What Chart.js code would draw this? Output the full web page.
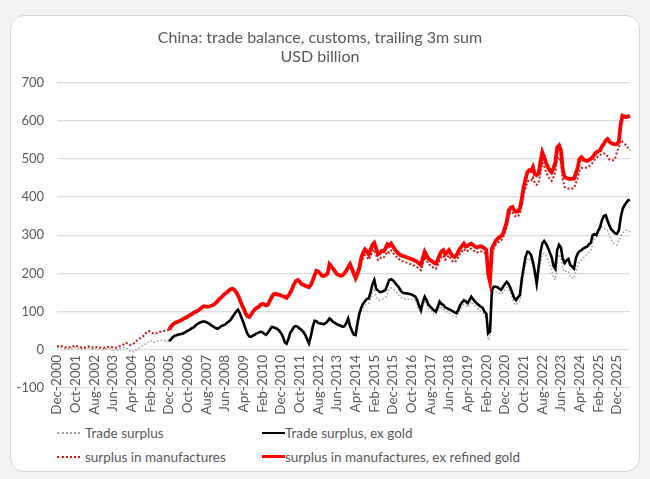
<!DOCTYPE html>
<html>
<head>
<meta charset="utf-8">
<script src="https://cdn.jsdelivr.net/npm/chart.js@4.4.1/dist/chart.umd.min.js"></script>
<style>
  html, body { margin: 0; padding: 0; background: #f3f3f3; width: 650px; height: 479px; overflow: hidden; }
  #card { position: absolute; left: 10px; top: 15px; width: 628px; height: 455px; background: #fff;
          border: 1.5px solid #d6dadd; border-radius: 14px; }
  #wrap { position: absolute; left: 10px; top: 15px; width: 630px; height: 410px; }
  .leg { position: absolute; font-family: Lato, "Open Sans", sans-serif; font-size: 13.5px; color: #595959;
         white-space: nowrap; line-height: 16px; }
  .sw { position: absolute; width: 23px; height: 0; }
</style>
</head>
<body>
<div id="card"></div>
<div id="wrap"><canvas id="c" width="630" height="410"></canvas></div>

<div class="sw" style="left:57px; top:432px; border-top:2px dotted #a6a6a6;"></div>
<div class="leg" style="left:85px; top:425px;">Trade surplus</div>
<div class="sw" style="left:262px; top:432px; border-top:2.5px solid #000;"></div>
<div class="leg" style="left:285px; top:425px;">Trade surplus, ex gold</div>
<div class="sw" style="left:57px; top:456px; border-top:2px dotted #d01515;"></div>
<div class="leg" style="left:85px; top:449px;">surplus in manufactures</div>
<div class="sw" style="left:262px; top:455px; border-top:3.5px solid #ff0000;"></div>
<div class="leg" style="left:285px; top:449px;">surplus in manufactures, ex refined gold</div>

<script>
// ---- categories: monthly, Dec-2000 .. Jul-2026 ----
const monthNames = ["Jan","Feb","Mar","Apr","May","Jun","Jul","Aug","Sep","Oct","Nov","Dec"];
const startYear = 2000, startMonth = 11, nMonths = 308;
const categories = [];
for (let k = 0; k < nMonths; k++) {
  const m = (startMonth + k) % 12, y = startYear + Math.floor((startMonth + k) / 12);
  categories.push(monthNames[m] + "-" + y);
}
// every 10th category is shown as a tick label
const tickLabels = ["Dec-2000","Oct-2001","Aug-2002","Jun-2003","Apr-2004","Feb-2005","Dec-2005","Oct-2006",
  "Aug-2007","Jun-2008","Apr-2009","Feb-2010","Dec-2010","Oct-2011","Aug-2012","Jun-2013","Apr-2014","Feb-2015",
  "Dec-2015","Oct-2016","Aug-2017","Jun-2018","Apr-2019","Feb-2020","Dec-2020","Oct-2021","Aug-2022","Jun-2023",
  "Apr-2024","Feb-2025","Dec-2025"];

// ---- Trade surplus (USD bn, trailing 3m), Dec-2000 .. Jul-2026 ----
const tradeSurplus = [
  6,
  6,7,5,3,2,2,3,4,6,7,5,3,
  2,1,2,4,5,3,2,2,3,4,2,1,
  0,1,2,3,2,0,-1,0,2,3,4,6,
  5,2,-3,-6,-5,-2,2,5,8,11,14,18,
  22,24,22,20,21,23,24,25,24,23,25,22,
  26,32,36,37,39,40,41,43,46,49,51,55,
  57,61,66,69,71,73,73,71,69,66,62,59,
  56,54,57,61,63,65,69,73,77,85,92,99,
  104,94,81,69,54,41,34,33,36,39,42,44,
  46,45,41,38,44,51,59,58,56,54,49,43,
  34,19,14,26,43,50,58,60,58,54,50,45,
  37,26,15,33,58,74,73,68,67,66,65,68,
  73,80,76,71,68,65,63,61,58,60,68,80,
  60,48,38,36,62,85,100,110,115,120,122,132,
  150,160,138,132,130,132,135,138,148,160,162,160,
  155,150,143,138,136,134,133,133,133,132,130,128,
  120,104,95,115,128,120,108,103,98,94,91,102,
  115,110,106,101,99,96,93,90,88,86,94,106,
  113,118,116,111,118,126,121,116,110,106,102,99,
  90,84,26,33,138,152,152,151,148,145,152,158,
  163,157,148,136,122,117,124,128,165,190,222,236,
  240,232,215,190,157,195,228,250,252,246,236,225,
  212,190,183,235,250,240,215,204,207,205,192,188,
  187,205,220,230,235,240,245,250,255,261,278,290,
  295,305,315,322,320,316,313,300,288,280,276,274,
  285,296,305,310,313,313,309
];

// ---- Trade surplus, ex gold: Dec-2005 .. Jul-2026 ----
const tradeSurplusExGold = [
  23,
  27,33,37,38,40,41,42,44,47,50,52,56,
  58,62,67,70,72,74,74,72,70,67,63,60,
  57,55,58,62,64,66,70,74,78,86,93,100,
  105,95,82,70,55,42,35,34,37,40,43,45,
  47,46,42,39,45,52,60,59,57,55,50,44,
  35,20,16,28,45,52,60,62,60,56,52,47,
  39,28,17,35,60,76,75,70,69,68,67,70,
  75,82,78,73,70,67,65,63,60,62,70,82,
  62,50,40,39,70,95,110,121,127,133,134,150,
  172,183,160,155,151,152,154,157,170,183,185,182,
  176,170,165,156,150,148,148,147,146,145,142,139,
  130,115,104,125,139,130,118,113,108,103,100,112,
  126,120,117,111,109,106,104,101,98,96,104,117,
  124,130,127,122,130,139,132,126,121,117,113,110,
  100,95,43,48,155,165,165,164,160,157,165,172,
  178,172,161,148,135,130,138,143,185,215,243,257,
  255,248,230,205,174,215,255,278,285,278,268,255,
  243,220,212,262,275,268,238,227,234,238,222,218,
  213,240,252,258,261,265,268,270,276,280,300,303,
  300,312,322,340,350,352,338,325,315,310,305,304,
  312,345,368,378,385,391,393
];

// ---- surplus in manufactures: Dec-2000 .. Jul-2026 ----
const manufSurplus = [
  9,
  10,11,9,7,6,6,7,8,10,11,9,7,
  6,5,6,8,9,7,6,6,7,8,6,5,
  5,6,7,8,8,6,5,6,8,10,12,15,
  18,16,13,13,16,20,25,28,32,35,40,46,
  49,47,44,42,43,45,47,48,49,50,51,52,
  59,65,69,71,73,75,78,81,83,86,89,92,
  95,98,100,103,107,111,113,112,112,113,115,117,
  121,126,132,136,141,146,149,154,157,159,156,150,
  141,129,117,107,95,87,85,91,99,105,109,111,
  117,119,118,115,117,127,137,144,146,144,143,141,
  139,137,135,141,149,159,171,179,182,177,171,169,
  167,165,163,169,180,194,206,204,199,193,192,195,
  199,222,216,210,203,196,194,192,193,198,205,213,
  218,205,193,182,192,206,228,240,248,243,236,246,
  258,262,248,235,238,243,242,248,258,254,260,254,
  248,243,238,234,232,231,229,227,225,223,221,219,
  216,212,208,226,243,234,225,221,217,214,212,222,
  234,244,247,236,241,247,238,231,229,234,243,252,
  258,264,257,259,263,265,261,257,255,257,258,256,
  253,250,192,172,256,266,275,280,283,287,293,307,
  322,350,359,361,352,348,350,356,378,405,422,440,
  443,443,452,436,432,436,462,490,480,466,455,447,
  442,452,467,500,504,492,444,426,424,422,421,422,
  423,436,451,470,476,475,476,478,480,484,490,497,
  503,507,510,513,514,513,506,498,496,496,500,518,
  530,548,545,540,535,528,522
];

// ---- surplus in manufactures, ex refined gold: Dec-2005 .. Jul-2026 ----
const manufSurplusExGold = [
  53,
  60,66,70,72,74,76,79,82,84,87,90,93,
  96,99,101,104,108,112,114,113,113,114,116,118,
  122,127,133,137,142,147,150,155,158,160,157,151,
  142,130,118,108,96,88,86,92,100,106,110,112,
  118,120,119,116,118,128,138,145,147,145,144,142,
  140,138,136,142,150,160,172,180,183,178,172,170,
  168,166,164,170,181,195,207,205,200,194,193,196,
  200,224,218,212,205,198,196,194,195,200,207,216,
  224,212,200,188,200,216,240,254,263,258,250,262,
  275,280,265,250,253,259,258,265,276,272,278,270,
  263,257,252,248,246,245,243,241,239,237,235,233,
  230,226,222,240,257,248,239,235,231,228,226,236,
  248,258,261,250,255,261,252,245,243,248,257,266,
  272,278,270,272,276,278,274,270,268,270,271,269,
  266,262,200,178,265,275,285,291,294,298,305,320,
  335,365,372,374,365,361,363,370,395,425,445,465,
  470,468,478,460,457,461,490,517,505,490,478,470,
  465,475,491,530,535,522,470,452,450,448,447,448,
  448,462,478,500,504,498,496,495,496,500,504,512,
  517,520,522,533,539,548,552,545,541,539,538,539,
  545,591,613,611,609,611,613
];

const exGoldStart = 60; // ex-gold series begin Dec-2005
const pad = n => new Array(n).fill(null);

const yTicks = [-100, 0, 100, 200, 300, 400, 500, 600, 700];
const textColor = "#595959";
const fontFamily = "Lato, 'Open Sans', sans-serif";

new Chart(document.getElementById("c"), {
  type: "line",
  data: {
    labels: categories,
    datasets: [
      { label: "surplus in manufactures, ex refined gold", data: pad(exGoldStart).concat(manufSurplusExGold),
        borderColor: "#ff0000", borderWidth: 3.8, pointRadius: 0, tension: 0 },
      { label: "Trade surplus, ex gold", data: pad(exGoldStart).concat(tradeSurplusExGold),
        borderColor: "#000000", borderWidth: 2.6, pointRadius: 0, tension: 0 },
      { label: "surplus in manufactures", data: manufSurplus,
        borderColor: "#d01515", borderWidth: 2, borderDash: [2, 2], pointRadius: 0, tension: 0 },
      { label: "Trade surplus", data: tradeSurplus,
        borderColor: "#a6a6a6", borderWidth: 1.6, borderDash: [1.6, 2], pointRadius: 0, tension: 0 }
    ]
  },
  options: {
    responsive: false,
    animation: false,
    spanGaps: false,
    layout: { padding: { left: 0, right: 10, top: 0, bottom: 37 } },
    plugins: {
      legend: { display: false },
      tooltip: { enabled: false },
      title: {
        display: true,
        text: ["China: trade balance, customs, trailing 3m sum", "USD billion"],
        color: textColor,
        font: { family: fontFamily, size: 16, weight: "normal", lineHeight: 1.2 },
        padding: { top: 13, bottom: 16 }
      }
    },
    scales: {
      x: {
        type: "category",
        position: { y: 0 },
        grid: { display: false, drawTicks: false },
        border: { display: false },
        ticks: {
          autoSkip: false, maxRotation: 90, minRotation: 90, padding: 5,
          color: textColor, font: { family: fontFamily, size: 13.5 },
          callback: function(v, i) {
            const lab = categories[i];
            return tickLabels.includes(lab) ? lab : null;
          }
        }
      },
      y: {
        min: yTicks[0], max: yTicks[yTicks.length - 1],
        afterBuildTicks: s => { s.ticks = yTicks.map(v => ({ value: v })); },
        afterFit: s => { s.width = 47; },
        grid: { color: "#dcdcdc", lineWidth: 1.2, drawTicks: false },
        border: { display: false },
        ticks: { color: textColor, padding: 13, font: { family: fontFamily, size: 13 } }
      }
    }
  }
});
</script>
</body>
</html>
